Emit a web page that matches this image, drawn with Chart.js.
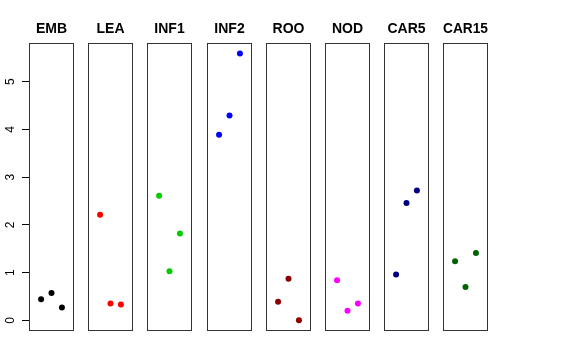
<!DOCTYPE html>
<html>
<head>
<meta charset="utf-8">
<script src="https://cdn.jsdelivr.net/npm/chart.js@4/dist/chart.umd.min.js"></script>
<style>
    body { margin: 0; background: #fff; }
    #wrap { position: relative; width: 576px; height: 360px; overflow: hidden; }
    #wrap canvas { position: absolute; top: 0; }
</style>
</head>
<body>
<div id="wrap"></div>
<script>
// data
var tissues = ['EMB', 'LEA', 'INF1', 'INF2', 'ROO', 'NOD', 'CAR5', 'CAR15'];
var replicate = [1, 2, 3];
var emb = [0.44, 0.57, 0.27];
var lea = [2.21, 0.35, 0.33];
var inf1 = [2.61, 1.03, 1.82];
var inf2 = [3.89, 4.29, 5.59];
var roo = [0.39, 0.87, 0.00];
var nod = [0.84, 0.20, 0.35];
var car5 = [0.96, 2.46, 2.72];
var car15 = [1.24, 0.70, 1.41];
var yTicks = [0, 1, 2, 3, 4, 5];

var series = [emb, lea, inf1, inf2, roo, nod, car5, car15];
var colors = ['#000000', '#ff0000', '#00cd00', '#0000ff', '#8b0000', '#ff00ff', '#000080', '#006400'];

Chart.defaults.color = '#000';
Chart.defaults.font.family = '"Liberation Sans", Arial, sans-serif';

var boxPlugin = {
    id: 'panelBox',
    afterDraw: function (chart) {
        var a = chart.chartArea;
        var c = chart.ctx;
        c.save();
        c.strokeStyle = '#333';
        c.lineWidth = 1;
        c.strokeRect(Math.round(a.left) + 0.5, Math.round(a.top) + 0.5,
            Math.round(a.right - a.left) - 1, Math.round(a.bottom - a.top) - 1);
        c.restore();
    }
};

var wrap = document.getElementById('wrap');
var yMin = -0.224, yMax = 5.805;

tissues.forEach(function (name, i) {
    var first = i === 0;
    var left = Math.round(29 + i * 59.2);
    var side = first ? 29 : 10;   // symmetric margins keep the title centred on the box
    var cv = document.createElement('canvas');
    cv.width = side + 45 + side;
    cv.height = 360;
    cv.style.left = (left - side) + 'px';
    wrap.appendChild(cv);

    var points = series[i].map(function (v, k) {
        return { x: replicate[k], y: v };
    });

    var scales = {
        x: {
            type: 'linear',
            min: -0.16,
            max: 4.16,
            display: false
        },
        y: {
            type: 'linear',
            min: yMin,
            max: yMax,
            display: first,
            afterFit: function (axis) { if (first) axis.width = 29; },
            afterBuildTicks: function (axis) {
                axis.ticks = yTicks.map(function (v) { return { value: v }; });
            },
            border: { display: false },
            grid: {
                drawOnChartArea: false,
                drawTicks: true,
                tickLength: 7,
                color: '#000'
            },
            ticks: {
                minRotation: 90,
                maxRotation: 90,
                crossAlign: 'center',
                padding: 8,
                font: { size: 12 }
            }
        }
    };
    if (first) {
        // empty right axis, same width as the left one
        scales.yRight = {
            type: 'linear',
            position: 'right',
            min: yMin,
            max: yMax,
            afterFit: function (axis) { axis.width = 29; },
            border: { display: false },
            grid: { display: false },
            ticks: { display: false }
        };
    }

    new Chart(cv, {
        type: 'scatter',
        data: {
            datasets: [{
                data: points,
                backgroundColor: colors[i],
                borderColor: colors[i],
                borderWidth: 0,
                pointRadius: 3,
                pointHoverRadius: 3
            }]
        },
        options: {
            responsive: false,
            animation: false,
            events: [],
            layout: { padding: { left: first ? 0 : side, right: first ? 0 : side, top: 0, bottom: 29 } },
            plugins: {
                legend: { display: false },
                tooltip: { enabled: false },
                title: {
                    display: true,
                    text: name,
                    font: { size: 14, weight: 'bold' },
                    padding: { top: 21, bottom: 5.5 }
                }
            },
            scales: scales
        },
        plugins: [boxPlugin]
    });
});
</script>
</body>
</html>
